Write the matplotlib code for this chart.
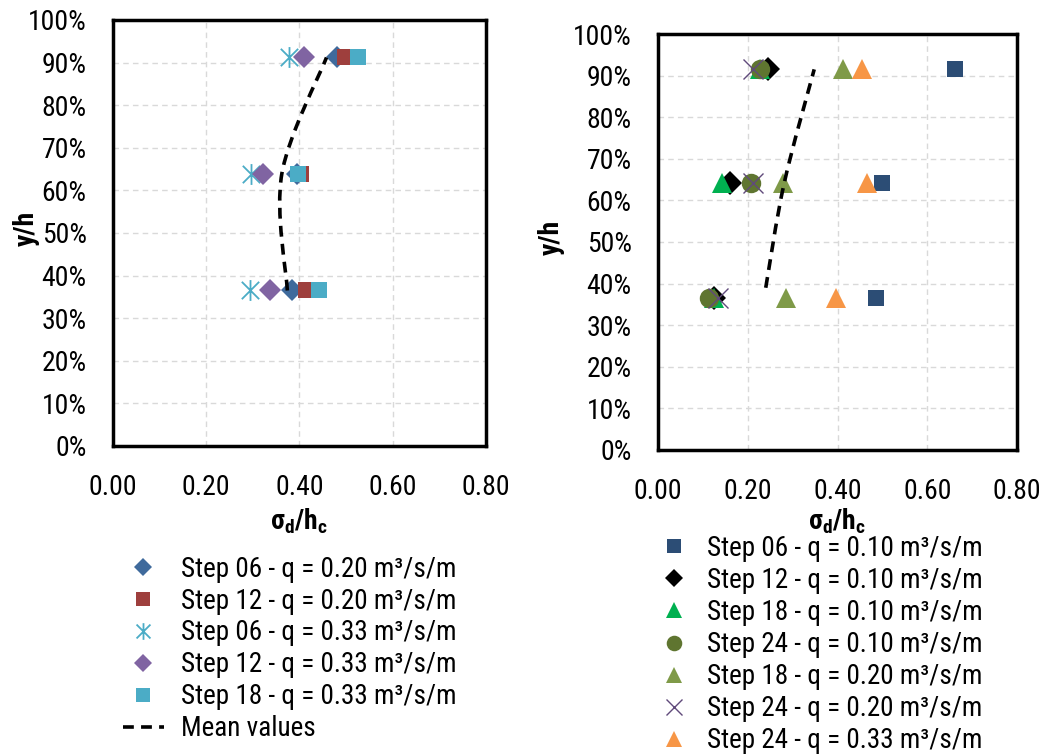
import matplotlib
matplotlib.use("Agg")
import matplotlib.pyplot as plt
from matplotlib.path import Path
from matplotlib.patches import PathPatch
from matplotlib.lines import Line2D
from matplotlib.ticker import MultipleLocator, FuncFormatter
from matplotlib import font_manager

narrow = [f.name for f in font_manager.fontManager.ttflist]
FONT = 'Liberation Sans'
for cand in ['Liberation Sans Narrow', 'Arial Narrow', 'Roboto Condensed', 'Archivo Narrow']:
    if cand in narrow:
        FONT = cand
        break

plt.rcParams['font.family'] = [FONT, 'Liberation Sans', 'DejaVu Sans']
plt.rcParams['mathtext.fontset'] = 'custom'
plt.rcParams['mathtext.rm'] = FONT
plt.rcParams['mathtext.bf'] = FONT + ':bold'

FS = 20
LFS = 19.5

# relative height of the measuring points
rows_left = [0.365, 0.638, 0.912]
rows_right = [0.365, 0.641, 0.915]

# left panel: sigma_d / h_c per series, bottom -> top
left_labels = ["Step 06 - q = 0.20 m³/s/m", "Step 12 - q = 0.20 m³/s/m",
               "Step 06 - q = 0.33 m³/s/m", "Step 12 - q = 0.33 m³/s/m",
               "Step 18 - q = 0.33 m³/s/m"]
left_values = [
    [0.385, 0.395, 0.480],
    [0.413, 0.403, 0.497],
    [0.294, 0.296, 0.377],
    [0.337, 0.321, 0.409],
    [0.442, 0.396, 0.526],
]
left_mean_x = [0.374, 0.362, 0.458]
left_mean_y = [0.365, 0.638, 0.912]

# right panel
right_labels = ["Step 06 - q = 0.10 m³/s/m", "Step 12 - q = 0.10 m³/s/m",
                "Step 18 - q = 0.10 m³/s/m", "Step 24 - q = 0.10 m³/s/m",
                "Step 18 - q = 0.20 m³/s/m", "Step 24 - q = 0.20 m³/s/m",
                "Step 24 - q = 0.33 m³/s/m"]
right_values = [
    [0.485, 0.498, 0.661],
    [0.125, 0.160, 0.245],
    [0.125, 0.142, 0.227],
    [0.113, 0.208, 0.227],
    [0.285, 0.279, 0.413],
    [0.134, 0.212, 0.212],
    [0.396, 0.466, 0.454],
]
right_mean_x = [0.240, 0.281, 0.348]
right_mean_y = [0.390, 0.641, 0.915]

# excel style star: an x with a vertical bar
star = Path([(-0.5, -0.5), (0.5, 0.5), (-0.5, 0.5), (0.5, -0.5), (0, -0.6), (0, 0.6)],
            [Path.MOVETO, Path.LINETO, Path.MOVETO, Path.LINETO, Path.MOVETO, Path.LINETO])

left_styles = [
    dict(marker='D', color='#3F6A9C', ms=11),
    dict(marker='s', color='#9E3F3D', ms=12),
    dict(marker=star, color='#4BACC6', ms=15, mew=1.3),
    dict(marker='D', color='#8064A2', ms=11),
    dict(marker='s', color='#4BACC6', ms=12),
]
right_styles = [
    dict(marker='s', color='#2C4D75', ms=12),
    dict(marker='D', color='#000000', ms=12),
    dict(marker='^', color='#00B050', ms=14),
    dict(marker='o', color='#5F7530', ms=14),
    dict(marker='^', color='#7F9A48', ms=14),
    dict(marker='x', color='#604A7B', ms=14, mew=1.0),
    dict(marker='^', color='#F79646', ms=14),
]


def smooth_path(xs, ys):
    # excel-like smoothed line through the mean points
    pts = list(zip(xs, ys))
    ext = [pts[0]] + pts + [pts[-1]]
    verts = [pts[0]]
    codes = [Path.MOVETO]
    for i in range(1, len(ext) - 2):
        p0, p1, p2, p3 = ext[i - 1], ext[i], ext[i + 1], ext[i + 2]
        c1 = (p1[0] + (p2[0] - p0[0]) / 6, p1[1] + (p2[1] - p0[1]) / 6)
        c2 = (p2[0] - (p3[0] - p1[0]) / 6, p2[1] - (p3[1] - p1[1]) / 6)
        verts += [c1, c2, p2]
        codes += [Path.CURVE4] * 3
    return Path(verts, codes)


def setup_axes(ax, ylab_x, xlab_pad):
    ax.set_xlim(0, 0.8)
    ax.set_ylim(0, 1.0)
    ax.xaxis.set_major_locator(MultipleLocator(0.2))
    ax.yaxis.set_major_locator(MultipleLocator(0.1))
    ax.xaxis.set_major_formatter(FuncFormatter(lambda v, p: f"{v:.2f}"))
    ax.yaxis.set_major_formatter(FuncFormatter(lambda v, p: f"{v * 100:.0f}%"))
    ax.grid(True, color='#D9D9D9', linestyle=(0, (4, 3)), linewidth=1.0)
    ax.set_axisbelow(True)
    ax.tick_params(length=0, labelsize=FS)
    ax.tick_params(axis='x', pad=20)
    ax.tick_params(axis='y', pad=19)
    for s in ax.spines.values():
        s.set_linewidth(2.5)
        s.set_color('black')
    ax.set_xlabel('σ$_\\mathbf{d}$/h$_\\mathbf{c}$', fontsize=FS, fontweight='bold', labelpad=xlab_pad)
    ax.set_ylabel('y/h', fontsize=FS, fontweight='bold')
    ax.yaxis.set_label_coords(ylab_x, 0.51)


def draw_panel(ax, labels, values, styles, rows, mx, my):
    handles = []
    for lab, vals, st in zip(labels, values, styles):
        st = dict(st)
        mew = st.pop('mew', 0)
        h, = ax.plot(vals, rows, linestyle='none', marker=st['marker'],
                     markersize=st['ms'], color=st['color'],
                     markeredgewidth=mew, label=lab)
        handles.append(h)
    patch = PathPatch(smooth_path(mx, my), facecolor='none', edgecolor='black',
                      linewidth=2.6, linestyle=(0, (3, 2)), zorder=5)
    ax.add_patch(patch)
    return handles


fig = plt.figure(figsize=(10.44, 7.54), dpi=100)
ax1 = fig.add_axes([0.1082, 0.4085, 0.3573, 0.565])
ax2 = fig.add_axes([0.6303, 0.4032, 0.3439, 0.5517])

setup_axes(ax1, -0.196, 4)
setup_axes(ax2, -0.259, 1)

h1 = draw_panel(ax1, left_labels, left_values, left_styles, rows_left, left_mean_x, left_mean_y)
h2 = draw_panel(ax2, right_labels, right_values, right_styles, rows_right, right_mean_x, right_mean_y)

mean_handle = Line2D([], [], color='black', linewidth=2.6, linestyle=(0, (3, 2)))

fig.legend(h1 + [mean_handle], left_labels + ['Mean values'], loc='upper left',
           bbox_to_anchor=(0.105, 0.281), frameon=False, fontsize=LFS,
           handlelength=1.5, handletextpad=0.65, labelspacing=0.18,
           borderpad=0, markerscale=0.8)
fig.legend(h2, right_labels, loc='upper left',
           bbox_to_anchor=(0.621, 0.309), frameon=False, fontsize=LFS,
           handlelength=0.9, handletextpad=0.78, labelspacing=0.19,
           borderpad=0, markerscale=0.8)

fig.savefig('out.png', dpi=100)
